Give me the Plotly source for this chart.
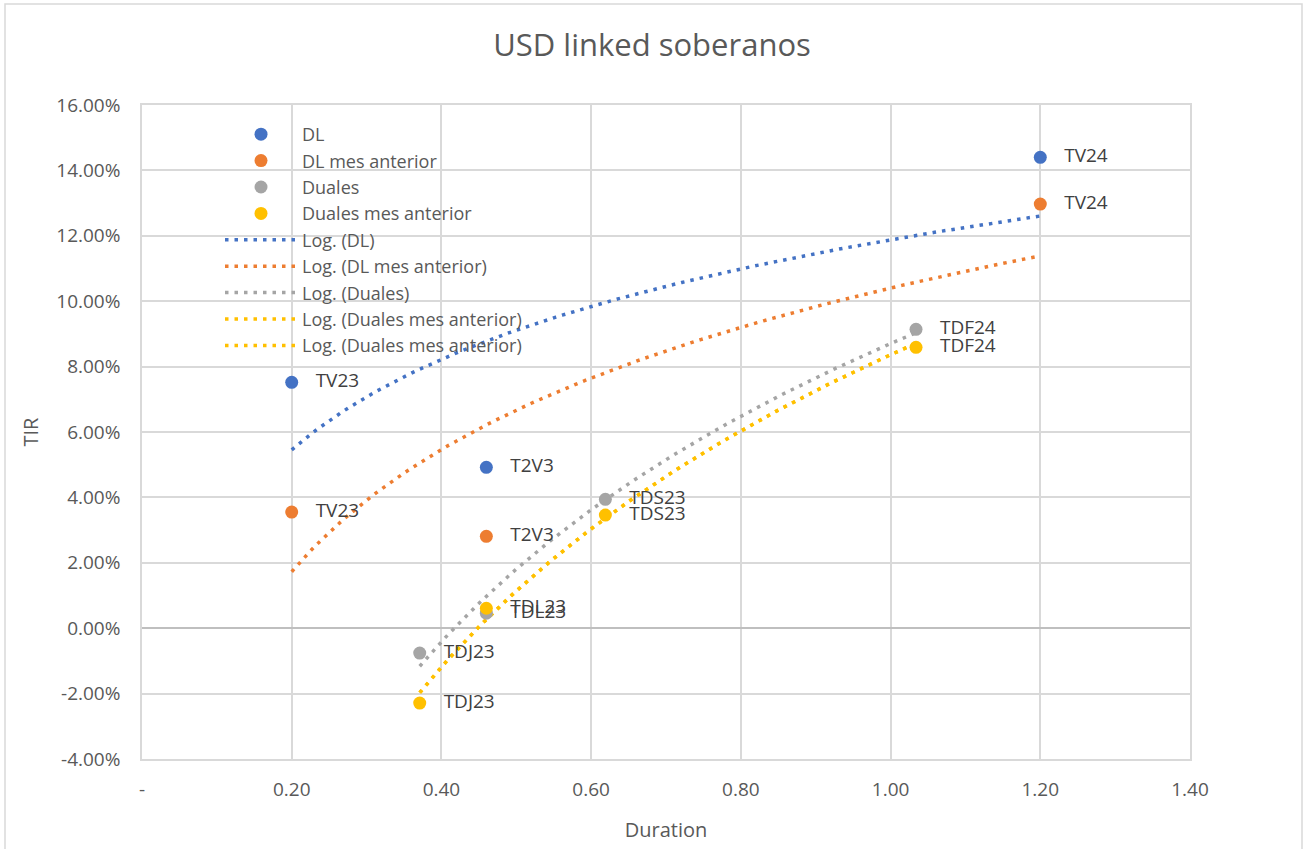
import numpy as np
import plotly.graph_objects as go

# ---- data ----
dl_x = [0.20, 0.46, 1.20]
dl_y = [0.0752, 0.0492, 0.1440]
dl_lbl = ["TV23", "T2V3", "TV24"]

dlm_x = [0.20, 0.46, 1.20]
dlm_y = [0.0355, 0.0281, 0.1297]
dlm_lbl = ["TV23", "T2V3", "TV24"]

du_x = [0.371, 0.46, 0.619, 1.034]
du_y = [-0.0076, 0.0046, 0.0394, 0.0914]
du_lbl = ["TDJ23", "TDL23", "TDS23", "TDF24"]

dum_x = [0.371, 0.46, 0.619, 1.034]
dum_y = [-0.0229, 0.0061, 0.0346, 0.0859]
dum_lbl = ["TDJ23", "TDL23", "TDS23", "TDF24"]

x_tickvals = [0, 0.2, 0.4, 0.6, 0.8, 1.0, 1.2, 1.4]
x_ticktext = ["-", "0.20", "0.40", "0.60", "0.80", "1.00", "1.20", "1.40"]
y_tickvals = [-0.04, -0.02, 0, 0.02, 0.04, 0.06, 0.08, 0.10, 0.12, 0.14, 0.16]
y_ticktext = ["-4.00%", "-2.00%", "0.00%", "2.00%", "4.00%", "6.00%", "8.00%",
              "10.00%", "12.00%", "14.00%", "16.00%"]

BLUE, ORANGE, GRAY, YELLOW = "#4472C4", "#ED7D31", "#A5A5A5", "#FFC000"
FONT = "Open Sans"
TXT = "#595959"

def logfit(xs, ys):
    xs = np.array(xs); ys = np.array(ys)
    a, b = np.polyfit(np.log(xs), ys, 1)
    xx = np.linspace(xs.min(), xs.max(), 120)
    return xx, a * np.log(xx) + b

fig = go.Figure()
series = [("DL", dl_x, dl_y, dl_lbl, BLUE),
          ("DL mes anterior", dlm_x, dlm_y, dlm_lbl, ORANGE),
          ("Duales", du_x, du_y, du_lbl, GRAY),
          ("Duales mes anterior", dum_x, dum_y, dum_lbl, YELLOW)]

trend_list = [("Log. (DL)", dl_x, dl_y, BLUE),
              ("Log. (DL mes anterior)", dlm_x, dlm_y, ORANGE),
              ("Log. (Duales)", du_x, du_y, GRAY),
              ("Log. (Duales mes anterior)", dum_x, dum_y, YELLOW),
              ("Log. (Duales mes anterior)", dum_x, dum_y, YELLOW)]

g = 0
for name, xs, ys, c in trend_list:
    xx, yy = logfit(xs, ys)
    fig.add_trace(go.Scatter(x=xx, y=yy, mode="lines", name=name,
                             line=dict(color=c, width=3.5, dash="3.5px,6px"),
                             legendgroup=f"t{g}", legendrank=10 + g, hoverinfo="skip"))
    g += 1

for i, (name, xs, ys, lbl, c) in enumerate(series):
    fig.add_trace(go.Scatter(x=xs, y=ys, mode="markers+text", name=name, text=lbl,
                             texttemplate="   %{text}",
                             textposition="middle right",
                             textfont=dict(family=FONT, size=19, color="#404040"),
                             marker=dict(color=c, size=13),
                             legendgroup=f"s{i}", legendrank=i + 1))

# chart-area border
fig.add_shape(type="rect", xref="paper", yref="paper",
              x0=(5 - 142) / 1048, x1=(1302 - 142) / 1048,
              y0=-0.2, y1=(759 - 4) / 654,
              line=dict(color="#d9d9d9", width=1.5), fillcolor="rgba(0,0,0,0)", layer="below")

fig.update_layout(
    width=1304, height=849,
    margin=dict(l=142, r=114, t=105, b=90),
    paper_bgcolor="white", plot_bgcolor="white",
    font=dict(family=FONT, size=19, color=TXT),
    title=dict(text="USD linked soberanos", x=0.5, xanchor="center", y=0.947, yanchor="middle",
               font=dict(family=FONT, size=31, color=TXT)),
    showlegend=True,
    legend=dict(x=(220 - 142) / 1048, y=(759 - 116) / 654, xanchor="left", yanchor="top",
                bgcolor="rgba(0,0,0,0)", traceorder="grouped", tracegroupgap=0,
                font=dict(family=FONT, size=18, color=TXT), itemwidth=72),
    xaxis=dict(range=[0, 1.4], tickvals=x_tickvals, ticktext=x_ticktext,
               showgrid=True, gridcolor="#d9d9d9", gridwidth=1.5, zeroline=False,
               showline=True, mirror=True, linecolor="#d9d9d9", linewidth=1.5,
               ticks="", ticklabelstandoff=12,
               title=dict(text="Duration", font=dict(family=FONT, size=20, color=TXT), standoff=22)),
    yaxis=dict(range=[-0.04, 0.16], tickvals=y_tickvals, ticktext=y_ticktext,
               showgrid=True, gridcolor="#d9d9d9", gridwidth=1.5,
               zeroline=True, zerolinecolor="#bfbfbf", zerolinewidth=2,
               showline=True, mirror=True, linecolor="#d9d9d9", linewidth=1.5,
               ticks="", ticklabelstandoff=16,
               title=dict(text="TIR", font=dict(family=FONT, size=20, color=TXT), standoff=12)),
)

fig.write_html("out.html", config={"displayModeBar": False},
               post_script="document.body.style.margin='0px';")
